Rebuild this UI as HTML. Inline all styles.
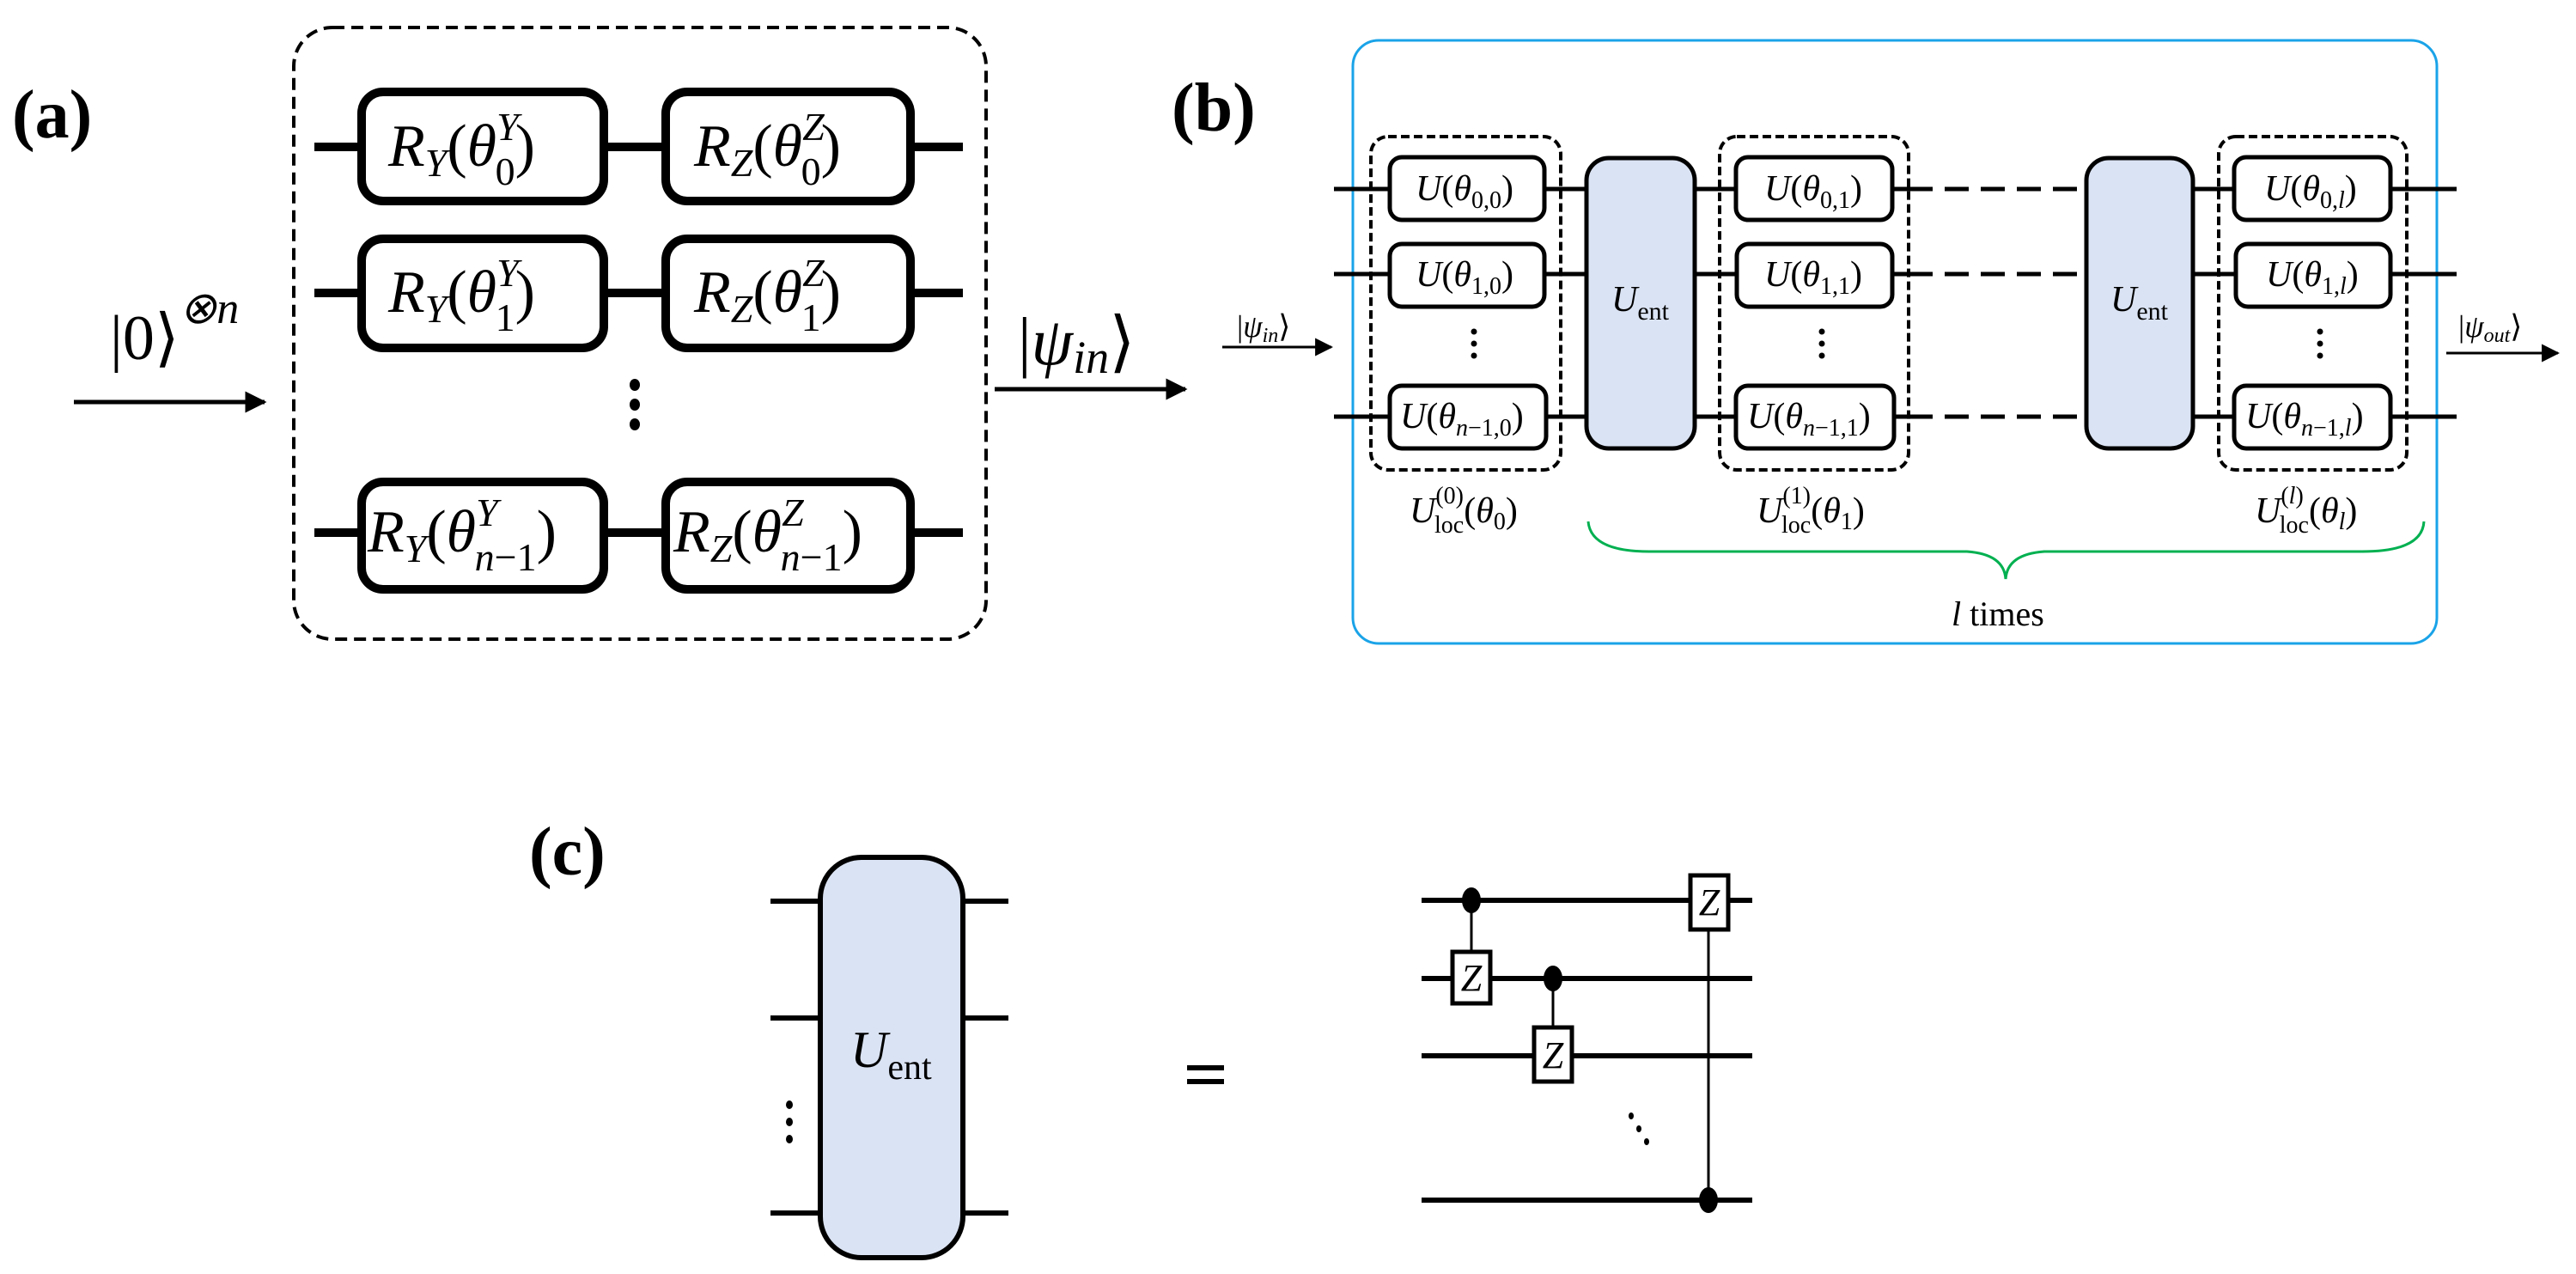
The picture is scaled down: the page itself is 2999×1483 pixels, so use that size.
<!DOCTYPE html>
<html><head><meta charset="utf-8"><style>
html,body{margin:0;padding:0;background:#fff;}
svg{display:block;}
text{font-family:"Liberation Serif",serif;fill:#000;}
.i{font-style:italic;}
</style></head><body>
<svg width="2999" height="1483" viewBox="0 0 2999 1483" xmlns="http://www.w3.org/2000/svg">
<defs>
<marker id="ah" viewBox="0 0 10 10" refX="9" refY="5" markerWidth="5" markerHeight="5" orient="auto" markerUnits="strokeWidth"><path d="M0,0 L10,5 L0,10 z" fill="#000"/></marker>
<marker id="ah2" viewBox="0 0 10 10" refX="9" refY="5" markerWidth="7" markerHeight="7" orient="auto" markerUnits="strokeWidth"><path d="M0,0 L10,5 L0,10 z" fill="#000"/></marker>
</defs>

<!-- ================= (a) ================= -->
<text x="14" y="160" font-size="80" font-weight="bold">(a)</text>
<rect x="342" y="32" width="806" height="712" rx="45" fill="none" stroke="#000" stroke-width="4" stroke-dasharray="14 8"/>
<g stroke="#000" stroke-width="10">
<line x1="366" y1="171" x2="1121" y2="171"/>
<line x1="366" y1="341" x2="1121" y2="341"/>
<line x1="366" y1="620" x2="1121" y2="620"/>
</g>
<g fill="#fff" stroke="#000" stroke-width="10">
<rect x="421" y="107" width="282" height="127" rx="25"/>
<rect x="775" y="107" width="285" height="127" rx="25"/>
<rect x="421" y="278" width="282" height="127" rx="25"/>
<rect x="775" y="278" width="285" height="127" rx="25"/>
<rect x="421" y="561" width="282" height="125" rx="25"/>
<rect x="775" y="561" width="285" height="125" rx="25"/>
</g>
<g font-size="70" class="i">
<text x="452" y="193">R<tspan font-size="46" dy="12">Y</tspan><tspan font-style="normal" dy="-12">(</tspan>θ<tspan font-size="46" dy="-30">Y</tspan><tspan font-size="46" font-style="normal" dx="-27" dy="52">0</tspan><tspan font-style="normal" dy="-22">)</tspan></text>
<text x="808" y="193">R<tspan font-size="46" dy="12">Z</tspan><tspan font-style="normal" dy="-12">(</tspan>θ<tspan font-size="46" dy="-30">Z</tspan><tspan font-size="46" font-style="normal" dx="-27" dy="52">0</tspan><tspan font-style="normal" dy="-22">)</tspan></text>
<text x="452" y="363">R<tspan font-size="46" dy="12">Y</tspan><tspan font-style="normal" dy="-12">(</tspan>θ<tspan font-size="46" dy="-30">Y</tspan><tspan font-size="46" font-style="normal" dx="-27" dy="52">1</tspan><tspan font-style="normal" dy="-22">)</tspan></text>
<text x="808" y="363">R<tspan font-size="46" dy="12">Z</tspan><tspan font-style="normal" dy="-12">(</tspan>θ<tspan font-size="46" dy="-30">Z</tspan><tspan font-size="46" font-style="normal" dx="-27" dy="52">1</tspan><tspan font-style="normal" dy="-22">)</tspan></text>
<text x="428" y="642">R<tspan font-size="46" dy="12">Y</tspan><tspan font-style="normal" dy="-12">(</tspan>θ<tspan font-size="46" dy="-30">Y</tspan><tspan font-size="46" dx="-27" dy="52">n</tspan><tspan font-size="46" font-style="normal">−1</tspan><tspan font-style="normal" dy="-22">)</tspan></text>
<text x="784" y="642">R<tspan font-size="46" dy="12">Z</tspan><tspan font-style="normal" dy="-12">(</tspan>θ<tspan font-size="46" dy="-30">Z</tspan><tspan font-size="46" dx="-27" dy="52">n</tspan><tspan font-size="46" font-style="normal">−1</tspan><tspan font-style="normal" dy="-22">)</tspan></text>
</g>
<g fill="#000">
<ellipse cx="739" cy="448" rx="6" ry="7"/><ellipse cx="739" cy="471" rx="6" ry="7"/><ellipse cx="739" cy="494" rx="6" ry="7"/>
</g>
<line x1="86" y1="468" x2="308" y2="468" stroke="#000" stroke-width="5" marker-end="url(#ah)"/>
<text x="128" y="418" font-size="74">|0⟩<tspan font-size="52" dy="-42" font-style="italic">⊗n</tspan></text>
<line x1="1158" y1="453" x2="1380" y2="453" stroke="#000" stroke-width="5" marker-end="url(#ah)"/>
<text x="1185" y="424" font-size="78">|<tspan class="i">ψ</tspan><tspan class="i" font-size="54" dy="10">in</tspan><tspan dy="-10">⟩</tspan></text>

<!-- ================= (b) ================= -->
<text x="1364" y="152" font-size="80" font-weight="bold">(b)</text>
<rect x="1575" y="47" width="1262" height="702" rx="30" fill="none" stroke="#1aa3e8" stroke-width="3"/>
<line x1="1423" y1="404" x2="1550" y2="404" stroke="#000" stroke-width="3" marker-end="url(#ah2)"/>
<text x="1440" y="392" font-size="36">|<tspan class="i">ψ</tspan><tspan class="i" font-size="24" dy="6">in</tspan><tspan dy="-6">⟩</tspan></text>
<line x1="2848" y1="411" x2="2978" y2="411" stroke="#000" stroke-width="3" marker-end="url(#ah2)"/>
<text x="2862" y="392" font-size="36">|<tspan class="i">ψ</tspan><tspan class="i" font-size="24" dy="6">out</tspan><tspan dy="-6">⟩</tspan></text>
<g stroke="#000" stroke-width="5">
<line x1="1553" y1="220" x2="2222" y2="220"/><line x1="1553" y1="319" x2="2222" y2="319"/><line x1="1553" y1="485" x2="2222" y2="485"/>
<line x1="2427" y1="220" x2="2860" y2="220"/><line x1="2427" y1="319" x2="2860" y2="319"/><line x1="2427" y1="485" x2="2860" y2="485"/>
<g stroke-dasharray="28 14"><line x1="2222" y1="220" x2="2427" y2="220"/><line x1="2222" y1="319" x2="2427" y2="319"/><line x1="2222" y1="485" x2="2427" y2="485"/></g>
</g>
<g fill="none" stroke="#000" stroke-width="4" stroke-dasharray="10 5">
<rect x="1596" y="159" width="221" height="388" rx="20"/>
<rect x="2002" y="159" width="220" height="388" rx="20"/>
<rect x="2583" y="159" width="219" height="388" rx="20"/>
</g>
<g fill="#fff" stroke="#000" stroke-width="5">
<rect x="1618" y="183" width="180" height="73" rx="14"/><rect x="1618" y="284" width="180" height="73" rx="14"/><rect x="1618" y="449" width="182" height="73" rx="14"/>
<rect x="2021" y="183" width="182" height="73" rx="14"/><rect x="2022" y="284" width="181" height="73" rx="14"/><rect x="2021" y="449" width="184" height="73" rx="14"/>
<rect x="2601" y="183" width="182" height="73" rx="14"/><rect x="2603" y="284" width="180" height="73" rx="14"/><rect x="2601" y="449" width="182" height="73" rx="14"/>
</g>
<g fill="#dae3f3" stroke="#000" stroke-width="5">
<rect x="1847" y="184" width="126" height="338" rx="26"/>
<rect x="2429" y="184" width="124" height="338" rx="26"/>
</g>
<g font-size="42" class="i">
<text x="1648" y="233">U<tspan font-style="normal">(</tspan>θ<tspan font-size="28" font-style="normal" dy="9">0,0</tspan><tspan font-style="normal" dy="-9">)</tspan></text>
<text x="1648" y="333">U<tspan font-style="normal">(</tspan>θ<tspan font-size="28" font-style="normal" dy="9">1,0</tspan><tspan font-style="normal" dy="-9">)</tspan></text>
<text x="1630" y="498">U<tspan font-style="normal">(</tspan>θ<tspan font-size="28" dy="9">n</tspan><tspan font-size="28" font-style="normal">−1,0</tspan><tspan font-style="normal" dy="-9">)</tspan></text>
<text x="2054" y="233">U<tspan font-style="normal">(</tspan>θ<tspan font-size="28" font-style="normal" dy="9">0,1</tspan><tspan font-style="normal" dy="-9">)</tspan></text>
<text x="2054" y="333">U<tspan font-style="normal">(</tspan>θ<tspan font-size="28" font-style="normal" dy="9">1,1</tspan><tspan font-style="normal" dy="-9">)</tspan></text>
<text x="2034" y="498">U<tspan font-style="normal">(</tspan>θ<tspan font-size="28" dy="9">n</tspan><tspan font-size="28" font-style="normal">−1,1</tspan><tspan font-style="normal" dy="-9">)</tspan></text>
<text x="2636" y="233">U<tspan font-style="normal">(</tspan>θ<tspan font-size="28" font-style="normal" dy="9">0,</tspan><tspan font-size="28" dy="0">l</tspan><tspan font-style="normal" dy="-9">)</tspan></text>
<text x="2638" y="333">U<tspan font-style="normal">(</tspan>θ<tspan font-size="28" font-style="normal" dy="9">1,</tspan><tspan font-size="28">l</tspan><tspan font-style="normal" dy="-9">)</tspan></text>
<text x="2614" y="498">U<tspan font-style="normal">(</tspan>θ<tspan font-size="28" dy="9">n</tspan><tspan font-size="28" font-style="normal">−1,</tspan><tspan font-size="28">l</tspan><tspan font-style="normal" dy="-9">)</tspan></text>
<text x="1876" y="362">U<tspan font-size="30" font-style="normal" dy="10">ent</tspan></text>
<text x="2457" y="362">U<tspan font-size="30" font-style="normal" dy="10">ent</tspan></text>
</g>
<g fill="#000">
<circle cx="1716" cy="386" r="3.5"/><circle cx="1716" cy="400" r="3.5"/><circle cx="1716" cy="414" r="3.5"/>
<circle cx="2121" cy="386" r="3.5"/><circle cx="2121" cy="400" r="3.5"/><circle cx="2121" cy="414" r="3.5"/>
<circle cx="2701" cy="386" r="3.5"/><circle cx="2701" cy="400" r="3.5"/><circle cx="2701" cy="414" r="3.5"/>
</g>
<g font-size="42" class="i">
<text x="1641" y="608">U<tspan font-size="28" font-style="normal" dx="0" dy="-22">(0)</tspan><tspan font-size="28" font-style="normal" dx="-34" dy="34">loc</tspan><tspan font-style="normal" dy="-12">(</tspan>θ<tspan font-size="28" font-style="normal" dy="8">0</tspan><tspan font-style="normal" dy="-8">)</tspan></text>
<text x="2045" y="608">U<tspan font-size="28" font-style="normal" dy="-22">(1)</tspan><tspan font-size="28" font-style="normal" dx="-34" dy="34">loc</tspan><tspan font-style="normal" dy="-12">(</tspan>θ<tspan font-size="28" font-style="normal" dy="8">1</tspan><tspan font-style="normal" dy="-8">)</tspan></text>
<text x="2625" y="608">U<tspan font-size="28" font-style="normal" dy="-22">(</tspan><tspan font-size="28">l</tspan><tspan font-size="28" font-style="normal">)</tspan><tspan font-size="28" font-style="normal" dx="-28" dy="34">loc</tspan><tspan font-style="normal" dy="-12">(</tspan>θ<tspan font-size="28" dy="8">l</tspan><tspan font-style="normal" dy="-8">)</tspan></text>
</g>
<path d="M1849,607 Q1852,642 1920,642 L2290,642 Q2333,645 2335,674 Q2337,645 2380,642 L2750,642 Q2820,642 2822,607" fill="none" stroke="#00b050" stroke-width="3"/>
<text x="2272" y="728" font-size="40"><tspan class="i">l</tspan> times</text>

<!-- ================= (c) ================= -->
<text x="616" y="1018" font-size="80" font-weight="bold">(c)</text>
<g stroke="#000" stroke-width="6">
<line x1="897" y1="1049" x2="1174" y2="1049"/><line x1="897" y1="1185" x2="1174" y2="1185"/><line x1="897" y1="1412" x2="1174" y2="1412"/>
</g>
<rect x="955" y="998" width="166" height="466" rx="48" fill="#dae3f3" stroke="#000" stroke-width="6"/>
<text x="990" y="1242" font-size="60" class="i">U<tspan font-size="42" font-style="normal" dy="14">ent</tspan></text>
<g fill="#000">
<ellipse cx="919" cy="1286" rx="4" ry="5"/><ellipse cx="919" cy="1306" rx="4" ry="5"/><ellipse cx="919" cy="1326" rx="4" ry="5"/>
</g>
<rect x="1382" y="1240" width="43" height="6" fill="#000"/><rect x="1382" y="1256" width="43" height="6" fill="#000"/>
<g stroke="#000">
<line x1="1655" y1="1048" x2="2040" y2="1048" stroke-width="6"/>
<line x1="1655" y1="1139" x2="2040" y2="1139" stroke-width="6"/>
<line x1="1655" y1="1229" x2="2040" y2="1229" stroke-width="6"/>
<line x1="1655" y1="1397" x2="2040" y2="1397" stroke-width="6"/>
<line x1="1713" y1="1048" x2="1713" y2="1108" stroke-width="3"/>
<line x1="1808" y1="1139" x2="1808" y2="1196" stroke-width="3"/>
<line x1="1989" y1="1082" x2="1989" y2="1397" stroke-width="3"/>
</g>
<g fill="#000">
<ellipse cx="1713" cy="1048" rx="11" ry="15"/><ellipse cx="1808" cy="1139" rx="11" ry="15"/><ellipse cx="1989" cy="1397" rx="11" ry="15"/>
<ellipse cx="1899" cy="1299" rx="3" ry="4"/><ellipse cx="1908" cy="1314" rx="3" ry="4"/><ellipse cx="1917" cy="1329" rx="3" ry="4"/>
</g>
<g fill="#fff" stroke="#000" stroke-width="5">
<rect x="1691" y="1108" width="44" height="60"/>
<rect x="1786" y="1196" width="44" height="63"/>
<rect x="1968" y="1019" width="44" height="63"/>
</g>
<g font-size="44" class="i" text-anchor="middle">
<text x="1713" y="1153">Z</text><text x="1808" y="1243">Z</text><text x="1990" y="1065">Z</text>
</g>
</svg>
</body></html>
